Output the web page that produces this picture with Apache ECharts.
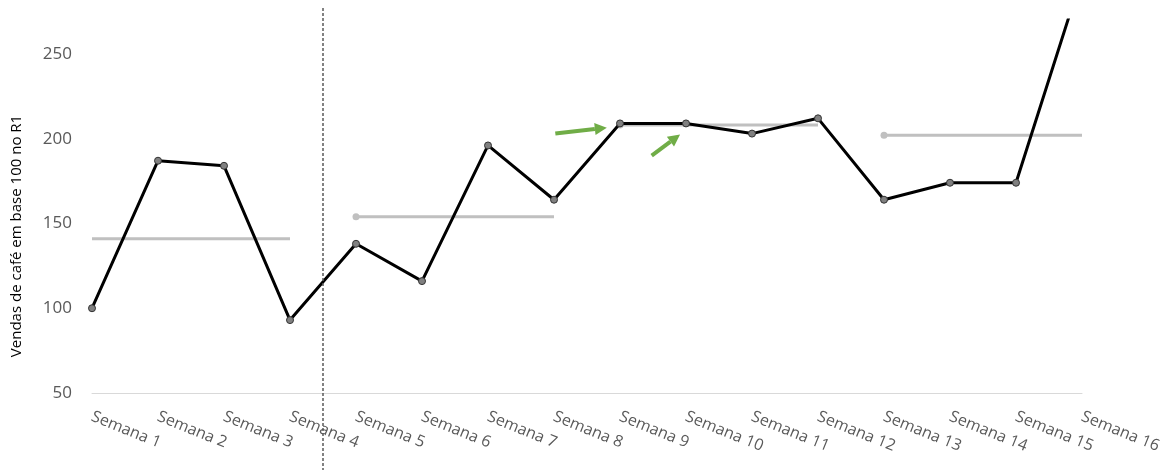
<!DOCTYPE html>
<html>
<head>
<meta charset="utf-8">
<style>
  html, body { margin: 0; padding: 0; background: #ffffff; }
  #chart { width: 1176px; height: 473px; }
</style>
<script src="https://cdn.jsdelivr.net/npm/echarts@6/dist/echarts.min.js"></script>
</head>
<body>
<div id="chart"></div>
<script>
// Weekly coffee sales, indexed to 100 in the first week
const weeks = ['Semana 1', 'Semana 2', 'Semana 3', 'Semana 4', 'Semana 5', 'Semana 6', 'Semana 7', 'Semana 8',
               'Semana 9', 'Semana 10', 'Semana 11', 'Semana 12', 'Semana 13', 'Semana 14', 'Semana 15', 'Semana 16'];
const sales = [100, 187, 184, 93, 138, 116, 196, 164, 209, 209, 203, 212, 164, 174, 174, 296];

// Four-week period averages (start index, end index, level)
const periodStart = [0, 4, 8, 12];
const periodEnd = [3, 7, 11, 15];
const periodAvg = [141, 154, 208, 202];

// Value axis ticks
const yTicks = [50, 100, 150, 200, 250];

// Divider between the first and second period (category position)
const dividerAt = 3.5;

// Annotation arrows: [fromIndex, fromValue, toIndex, toValue]
const arrows = [
  [7.02, 203, 7.80, 206.5],
  [8.48, 190, 8.91, 202.5]
];

const yTitle = 'Vendas de café em base 100 no R1';
const FONT = '"Open Sans", "Noto Sans", sans-serif';

const avgSeries = periodAvg.map((avg, k) => {
  const data = weeks.map((_, i) => (i >= periodStart[k] && i <= periodEnd[k]) ? avg : null);
  return {
    type: 'line',
    data: data,
    z: 2,
    symbol: 'circle',
    symbolSize: (v, p) => (k > 0 && p.dataIndex === periodStart[k]) ? 7 : 0,
    showSymbol: true,
    lineStyle: { color: '#c0c0c0', width: 3 },
    itemStyle: { color: '#c0c0c0', borderWidth: 0 },
    connectNulls: false,
    silent: true,
    animation: false
  };
});

const chart = echarts.init(document.getElementById('chart'), null, { renderer: 'canvas' });

chart.setOption({
  animation: false,
  backgroundColor: '#ffffff',
  grid: { left: 92, right: 94, top: 20, bottom: 80, containLabel: false },
  xAxis: {
    type: 'category',
    data: weeks,
    boundaryGap: false,
    axisLine: { show: true, lineStyle: { color: '#d9d9d9', width: 1 } },
    axisTick: { show: false },
    axisLabel: {
      rotate: -22,
      margin: 23,
      color: '#595959',
      fontSize: 16,
      fontFamily: FONT,
      interval: 0
    },
    splitLine: { show: false }
  },
  yAxis: {
    type: 'value',
    min: 50,
    max: 270,
    interval: 50,
    axisLine: { show: false },
    axisTick: { show: false },
    splitLine: { show: false },
    axisLabel: {
      color: '#595959',
      fontSize: 17,
      fontFamily: FONT,
      margin: 20,
      showMaxLabel: false,
      formatter: v => (yTicks.indexOf(v) >= 0 ? String(v) : '')
    }
  },
  series: [
    ...avgSeries,
    {
      type: 'line',
      data: sales,
      z: 3,
      symbol: 'circle',
      symbolSize: 7,
      showSymbol: true,
      lineStyle: { color: '#000000', width: 3 },
      itemStyle: { color: '#808080', borderColor: '#333333', borderWidth: 1 },
      clip: true,
      silent: true
    }
  ]
});

// Overlay elements placed through the chart's own coordinate system
function px(idx, val) {
  const i0 = Math.floor(idx), i1 = Math.min(i0 + 1, weeks.length - 1);
  const p0 = chart.convertToPixel({ gridIndex: 0 }, [i0, val]);
  const p1 = chart.convertToPixel({ gridIndex: 0 }, [i1, val]);
  const t = idx - i0;
  return [p0[0] + (p1[0] - p0[0]) * t, p0[1]];
}

const graphics = [];

// Dashed period divider
const dx = px(dividerAt, 50)[0];
graphics.push({
  type: 'line',
  shape: { x1: dx, y1: 8, x2: dx, y2: 470 },
  style: { stroke: '#595959', lineWidth: 1.5, lineDash: [3, 2] },
  z: 10
});

// Green arrows
arrows.forEach(a => {
  const s = px(a[0], a[1]);
  const e = px(a[2], a[3]);
  const ang = Math.atan2(e[1] - s[1], e[0] - s[0]);
  const headLen = 12, headW = 6;
  const bx = e[0] - Math.cos(ang) * headLen, by = e[1] - Math.sin(ang) * headLen;
  const nx = -Math.sin(ang), ny = Math.cos(ang);
  graphics.push({
    type: 'line',
    shape: { x1: s[0], y1: s[1], x2: bx, y2: by },
    style: { stroke: '#70ad47', lineWidth: 4 },
    z: 10
  });
  graphics.push({
    type: 'polygon',
    shape: { points: [[e[0], e[1]], [bx + nx * headW, by + ny * headW], [bx - nx * headW, by - ny * headW]] },
    style: { fill: '#70ad47' },
    z: 10
  });
});

// Vertical axis title
graphics.push({
  type: 'text',
  x: 17,
  y: 236,
  rotation: Math.PI / 2,
  style: {
    text: yTitle,
    fill: '#000000',
    font: '15px ' + FONT,
    align: 'center',
    verticalAlign: 'middle'
  },
  z: 10
});

chart.setOption({ graphic: graphics });
</script>
</body>
</html>
